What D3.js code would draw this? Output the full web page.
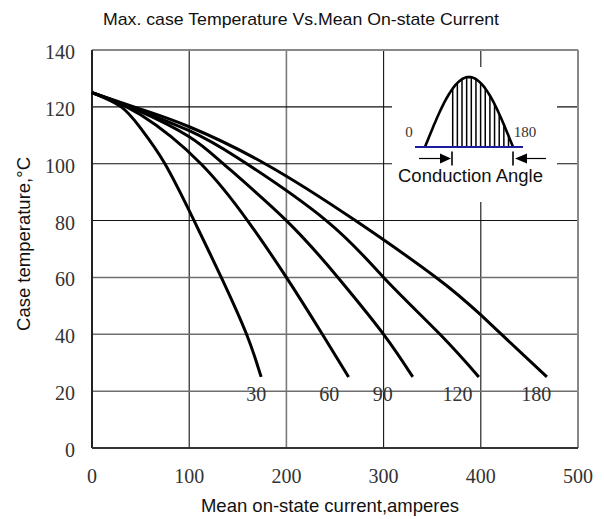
<!DOCTYPE html>
<html>
<head>
<meta charset="utf-8">
<script src="https://cdn.jsdelivr.net/npm/d3@7"></script>
<style>
  html, body { margin: 0; padding: 0; background: #fff; }
  svg { display: block; }
</style>
</head>
<body>
<svg id="chart" width="604" height="519"></svg>
<script>
// ---- data ----
const chartTitle = "Max. case Temperature Vs.Mean On-state Current";
const xTicks = [0, 100, 200, 300, 400, 500];
const yTicks = [0, 20, 40, 60, 80, 100, 120, 140];
const seriesNames = ["30", "60", "90", "120", "180"];

const current30 = [0, 30, 50, 75, 105, 133, 159, 174];
const temp30    = [125, 120, 112.5, 100, 80, 60, 40, 25];

const current60 = [0, 50, 112, 160, 200, 237, 264];
const temp60    = [125, 117.2, 100, 80, 60, 40, 25];

const current90 = [0, 50, 100, 135, 200, 253, 300, 330];
const temp90    = [125, 118.3, 109.5, 100, 80, 60, 40, 25];

const current120 = [0, 50, 100, 150, 241, 300, 358, 398];
const temp120    = [125, 118.6, 111.6, 102, 80, 60, 40, 25];

const current180 = [0, 50, 100, 178, 271, 354, 400, 468];
const temp180    = [125, 119.2, 113, 100, 80, 60, 46.8, 25];

const labelCurrent = [169, 244, 299, 376, 457];
const labelTemp = 16.5;

// ---- setup ----
const svg = d3.select("#chart");
const x = d3.scaleLinear().domain([0, 500]).range([92, 578]);
const y = d3.scaleLinear().domain([0, 140]).range([448, 50]);

const seriesCurrents = [current30, current60, current90, current120, current180];
const seriesTemps = [temp30, temp60, temp90, temp120, temp180];
const series = seriesNames.map((n, i) => ({
  name: n,
  points: seriesCurrents[i].map((c, j) => [c, seriesTemps[i][j]]),
  labelX: labelCurrent[i]
}));

// grid lines
const grayX = new Set([200]);
const grayY = new Set([20, 40, 60]);
svg.append("g").selectAll("line.vg")
  .data(xTicks.filter(d => d > 0 && d < 500))
  .join("line")
  .attr("x1", d => x(d)).attr("x2", d => x(d))
  .attr("y1", y(140)).attr("y2", y(0))
  .attr("stroke", d => grayX.has(d) ? "#7a7a7a" : "#111")
  .attr("stroke-width", d => grayX.has(d) ? 1.6 : 1.1);
svg.append("g").selectAll("line.hg")
  .data(yTicks.filter(d => d > 0 && d < 140))
  .join("line")
  .attr("x1", x(0)).attr("x2", x(500))
  .attr("y1", d => y(d)).attr("y2", d => y(d))
  .attr("stroke", d => grayY.has(d) ? "#6e6e6e" : "#111")
  .attr("stroke-width", d => grayY.has(d) ? 1.5 : 1.1);

// frame
svg.append("line").attr("x1", x(0)).attr("x2", x(500)).attr("y1", y(140)).attr("y2", y(140))
  .attr("stroke", "#888").attr("stroke-width", 2);
svg.append("line").attr("x1", x(500)).attr("x2", x(500)).attr("y1", y(140)).attr("y2", y(0))
  .attr("stroke", "#888").attr("stroke-width", 2);
svg.append("line").attr("x1", x(0)).attr("x2", x(0)).attr("y1", y(140)).attr("y2", y(0))
  .attr("stroke", "#222").attr("stroke-width", 2);
svg.append("line").attr("x1", x(0)).attr("x2", x(500)).attr("y1", y(0)).attr("y2", y(0))
  .attr("stroke", "#333").attr("stroke-width", 2.2);

// ---- inset (conduction angle diagram) ----
const inset = svg.append("g");
inset.append("rect").attr("x", 392).attr("y", 67).attr("width", 165).attr("height", 135)
  .attr("fill", "#fff");
const sx0 = 425, sx1 = 513, sBase = 147, sPeak = 77;
const sinePts = d3.range(0, 181, 3).map(a => [sx0 + (sx1 - sx0) * a / 180, sBase - (sBase - sPeak) * Math.sin(a * Math.PI / 180)]);
const hatchXs = d3.range(0, 13).map(i => 452.7 + i * 4.65);
inset.selectAll("line.hatch").data(hatchXs).join("line")
  .attr("x1", d => d).attr("x2", d => d)
  .attr("y1", sBase)
  .attr("y2", d => sBase - (sBase - sPeak) * Math.sin((d - sx0) / (sx1 - sx0) * Math.PI))
  .attr("stroke", "#000").attr("stroke-width", 1.5);
inset.append("path").attr("d", d3.line()(sinePts))
  .attr("fill", "none").attr("stroke", "#000").attr("stroke-width", 2.6);
inset.append("line").attr("x1", 415).attr("x2", 523).attr("y1", sBase).attr("y2", sBase)
  .attr("stroke", "#1c1c9c").attr("stroke-width", 2);
inset.append("text").attr("x", 409).attr("y", 137).attr("text-anchor", "middle")
  .attr("font-family", "'Liberation Serif', 'DejaVu Serif', serif").attr("font-size", 15)
  .attr("fill", "#333").text("0");
inset.append("text").attr("x", 525).attr("y", 137).attr("text-anchor", "middle")
  .attr("font-family", "'Liberation Serif', 'DejaVu Serif', serif").attr("font-size", 15)
  .attr("fill", "#333").text("180");
// arrows
const ay = 158.5;
inset.append("line").attr("x1", 419).attr("x2", 442).attr("y1", ay).attr("y2", ay).attr("stroke", "#000").attr("stroke-width", 1.2);
inset.append("path").attr("d", `M440,${ay-5}L451,${ay}L440,${ay+5}Z`).attr("fill", "#000");
inset.append("line").attr("x1", 452).attr("x2", 452).attr("y1", ay - 7).attr("y2", ay + 7).attr("stroke", "#000").attr("stroke-width", 1.6);
inset.append("line").attr("x1", 525).attr("x2", 546).attr("y1", ay).attr("y2", ay).attr("stroke", "#000").attr("stroke-width", 1.2);
inset.append("path").attr("d", `M527,${ay-5}L515,${ay}L527,${ay+5}Z`).attr("fill", "#000");
inset.append("line").attr("x1", 513).attr("x2", 513).attr("y1", ay - 7).attr("y2", ay + 7).attr("stroke", "#000").attr("stroke-width", 1.6);
inset.append("text").attr("x", 470.5).attr("y", 181.5).attr("text-anchor", "middle")
  .attr("font-family", "'Liberation Sans', Arial, sans-serif").attr("font-size", 17.5)
  .attr("textLength", 145).attr("lengthAdjust", "spacingAndGlyphs")
  .attr("fill", "#111").text("Conduction Angle");

// ---- curves ----
const line = d3.line().x(d => x(d[0])).y(d => y(d[1])).curve(d3.curveNatural);
svg.append("g").selectAll("path.curve").data(series).join("path")
  .attr("d", d => line(d.points))
  .attr("fill", "none").attr("stroke", "#000").attr("stroke-width", 3)
  .attr("stroke-linecap", "butt");

// curve labels
svg.append("g").selectAll("text.lbl").data(series).join("text")
  .attr("x", d => x(d.labelX)).attr("y", y(labelTemp))
  .attr("text-anchor", "middle")
  .attr("font-family", "'Liberation Serif', 'DejaVu Serif', serif").attr("font-size", 20)
  .attr("fill", "#333").text(d => d.name);

// ---- axes labels ----
svg.append("g").selectAll("text.xt").data(xTicks).join("text")
  .attr("x", d => x(d)).attr("y", 483)
  .attr("text-anchor", "middle")
  .attr("font-family", "'Liberation Serif', 'DejaVu Serif', serif").attr("font-size", 20)
  .attr("fill", "#333").text(d => d);
svg.append("g").selectAll("text.yt").data(yTicks).join("text")
  .attr("x", 75).attr("y", d => y(d) + 9)
  .attr("text-anchor", "end")
  .attr("font-family", "'Liberation Serif', 'DejaVu Serif', serif").attr("font-size", 20)
  .attr("fill", "#333").text(d => d);

// titles
svg.append("text").attr("x", 301).attr("y", 25).attr("text-anchor", "middle")
  .attr("font-family", "'Liberation Sans', Arial, sans-serif").attr("font-size", 17)
  .attr("textLength", 396).attr("lengthAdjust", "spacingAndGlyphs")
  .attr("fill", "#111").text(chartTitle);
svg.append("text").attr("x", 330).attr("y", 512).attr("text-anchor", "middle")
  .attr("font-family", "'Liberation Sans', Arial, sans-serif").attr("font-size", 18.5)
  .attr("fill", "#111").text("Mean on-state current,amperes");
svg.append("text").attr("transform", "translate(30,244) rotate(-90)").attr("text-anchor", "middle")
  .attr("font-family", "'Liberation Sans', Arial, sans-serif").attr("font-size", 18.5)
  .attr("fill", "#111").text("Case temperature,°C");
</script>
</body>
</html>
